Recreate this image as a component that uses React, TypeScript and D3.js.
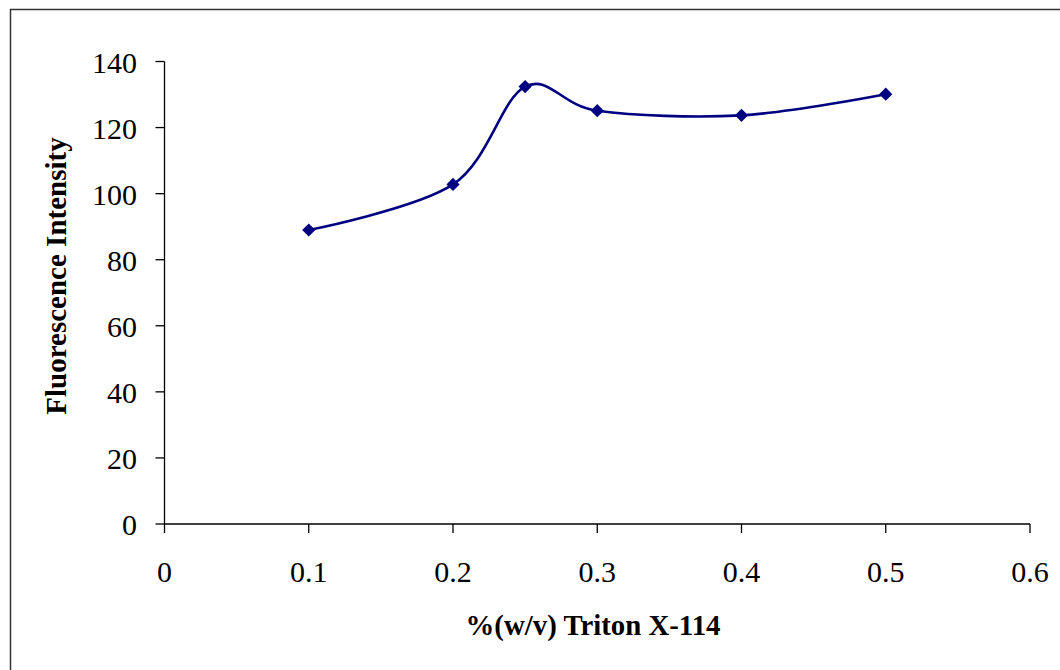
import React from "react";
import * as d3 from "d3";

const concentrations = [0.1, 0.2, 0.25, 0.3, 0.4, 0.5];
const intensities = [89, 102.8, 132.4, 125.1, 123.7, 130.1];
const xTicks = [0, 0.1, 0.2, 0.3, 0.4, 0.5, 0.6];
const yTicks = [0, 20, 40, 60, 80, 100, 120, 140];
const xTitle = "%(w/v) Triton X-114";
const yTitle = "Fluorescence Intensity";

const W = 1060;
const H = 670;
const FONT = "'Liberation Serif', 'Times New Roman', serif";

export default function App() {
  const x = d3.scaleLinear().domain([0, 0.6]).range([164.5, 1030]);
  const y = d3.scaleLinear().domain([0, 140]).range([524, 61.5]);
  const pts: [number, number][] = concentrations.map((c, i) => [x(c), y(intensities[i])]);
  const line = d3.line().curve(d3.curveCardinal.tension(0))(pts) || "";
  const s = 6.6;
  const diamond = `M0,${-s}L${s},0L0,${s}L${-s},0Z`;

  return (
    <svg
      width={W}
      height={H}
      style={{ position: "absolute", left: 0, top: 0, background: "#fff" }}
      fontFamily={FONT}
    >
      <rect x={10.5} y={9.5} width={1200} height={800} fill="#fff" stroke="#333" strokeWidth={1.5} />
      {/* axes */}
      <line x1={x(0)} x2={x(0.6)} y1={y(0)} y2={y(0)} stroke="#000" strokeWidth={1.3} />
      <line x1={x(0)} x2={x(0)} y1={y(0)} y2={y(140)} stroke="#000" strokeWidth={1.3} />
      {xTicks.map((t) => (
        <g key={"x" + t}>
          <line x1={x(t)} x2={x(t)} y1={y(0)} y2={y(0) + 9} stroke="#000" strokeWidth={1.3} />
          <text x={x(t)} y={582} textAnchor="middle" fontSize={30} fill="#000">
            {String(t)}
          </text>
        </g>
      ))}
      {yTicks.map((t) => (
        <g key={"y" + t}>
          <line x1={x(0) - 9} x2={x(0)} y1={y(t)} y2={y(t)} stroke="#000" strokeWidth={1.3} />
          <text x={137} y={y(t) + 11} textAnchor="end" fontSize={30} fill="#000">
            {String(t)}
          </text>
        </g>
      ))}
      <path d={line} fill="none" stroke="#000080" strokeWidth={2.6} />
      {pts.map((p, i) => (
        <path key={i} d={diamond} transform={`translate(${p[0]},${p[1]})`} fill="#000080" />
      ))}
      <text x={593} y={635} textAnchor="middle" fontSize={28.8} fontWeight="bold" fill="#000">
        {xTitle}
      </text>
      <text
        transform={`translate(66,276) rotate(-90)`}
        textAnchor="middle"
        fontSize={29}
        fontWeight="bold"
        fill="#000"
      >
        {yTitle}
      </text>
    </svg>
  );
}
